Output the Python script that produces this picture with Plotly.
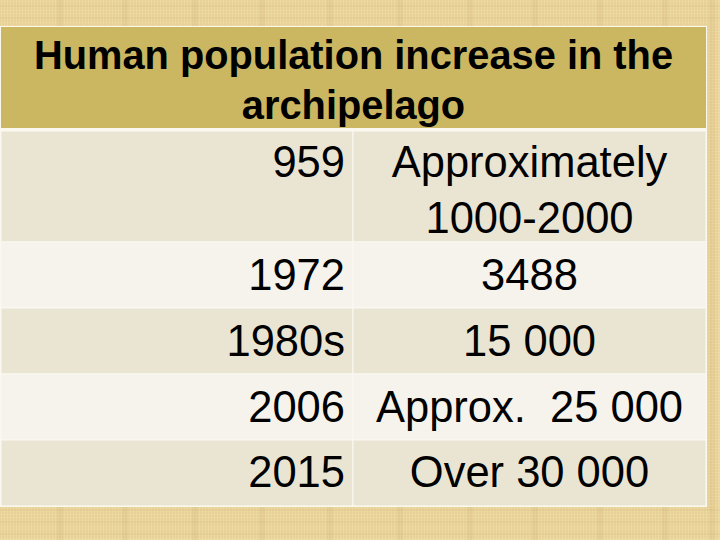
import plotly.graph_objects as go

title_lines = ['Human population increase in the', 'archipelago']
years = ['959', '1972', '1980s', '2006', '2015']
populations = ['Approximately<br>1000-2000', '3488', '15 000', 'Approx.  25 000', 'Over 30 000']

W, H = 720, 540
FONT = 'Liberation Sans'
LEFT, MID, RIGHT = 1, 353, 706
TOP, HEAD_BOTTOM = 27, 128
ROW_TOPS = [131, 242, 308, 374, 440]
ROW_BOTTOMS = [242, 308, 374, 440, 506]
TITLE_Y = [59, 109]
YEAR_Y = [166, 279, 345, 411, 476]
POP_Y = [194, 279, 345, 411, 476]

# papyrus background: darker bands over a fine weave
BAND_X = [60, 125, 195, 262, 330, 400, 470, 535, 600, 665, 712]
BAND_Y = [6, 18, 510, 522, 534]

fig = go.Figure()

shapes = []
for x in range(0, W, 3):
    shapes.append(dict(type = 'line', x0 = x, x1 = x, y0 = 0, y1 = H, layer = 'below',
                       line = dict(color = 'rgba(190,150,70,0.16)', width = 1)))
for y in range(0, H, 3):
    shapes.append(dict(type = 'line', x0 = 0, x1 = W, y0 = y, y1 = y, layer = 'below',
                       line = dict(color = 'rgba(190,150,70,0.13)', width = 1)))
for x in BAND_X:
    shapes.append(dict(type = 'line', x0 = x, x1 = x, y0 = 0, y1 = H, layer = 'below',
                       line = dict(color = 'rgba(170,130,60,0.08)', width = 6)))
for y in BAND_Y:
    shapes.append(dict(type = 'line', x0 = 0, x1 = W, y0 = y, y1 = y, layer = 'below',
                       line = dict(color = 'rgba(170,130,60,0.06)', width = 3)))

# pale outline showing between the cells
shapes.append(dict(type = 'rect', x0 = 0, x1 = RIGHT + 1, y0 = TOP - 1, y1 = ROW_BOTTOMS[-1] + 1,
                   fillcolor = '#FAF8EE', line_width = 0, layer = 'below'))
shapes.append(dict(type = 'rect', x0 = LEFT, x1 = RIGHT, y0 = TOP, y1 = HEAD_BOTTOM,
                   fillcolor = '#CBB762', line_width = 0, layer = 'below'))
for i, (y0, y1) in enumerate(zip(ROW_TOPS, ROW_BOTTOMS)):
    color = '#EAE5D3' if i % 2 == 0 else '#F5F3EB'
    shapes.append(dict(type = 'rect', x0 = LEFT, x1 = MID, y0 = y0, y1 = y1,
                       fillcolor = color, line = dict(color = '#FAF9F2', width = 1), layer = 'below'))
    shapes.append(dict(type = 'rect', x0 = MID, x1 = RIGHT, y0 = y0, y1 = y1,
                       fillcolor = color, line = dict(color = '#FAF9F2', width = 1), layer = 'below'))

fig.add_trace(go.Scatter(
    x = [(LEFT + RIGHT) / 2] * len(title_lines),
    y = TITLE_Y,
    mode = 'text',
    text = title_lines,
    textposition = 'middle center',
    textfont = dict(family = FONT, size = 39.8, color = 'black', weight = 'bold'),
    hoverinfo = 'skip',
))
fig.add_trace(go.Scatter(
    x = [345] * len(years),
    y = YEAR_Y,
    mode = 'text',
    text = years,
    textposition = 'middle left',
    textfont = dict(family = FONT, size = 43.5, color = 'black'),
    hoverinfo = 'skip',
))
fig.add_trace(go.Scatter(
    x = [529.5] * len(populations),
    y = POP_Y,
    mode = 'text',
    text = populations,
    textposition = 'middle center',
    textfont = dict(family = FONT, size = 43.5, color = 'black'),
    hoverinfo = 'skip',
))

fig.update_layout(
    width = W,
    height = H,
    margin = dict(l = 0, r = 0, t = 0, b = 0),
    paper_bgcolor = '#EFDCA6',
    plot_bgcolor = 'rgba(0,0,0,0)',
    showlegend = False,
    shapes = shapes,
    xaxis = dict(range = [0, W], visible = False),
    yaxis = dict(range = [H, 0], visible = False),
)

# page margin would push the chart 8px in
fig.write_html('out.html', config = dict(displayModeBar = False),
               post_script = "document.body.style.margin = '0';")
